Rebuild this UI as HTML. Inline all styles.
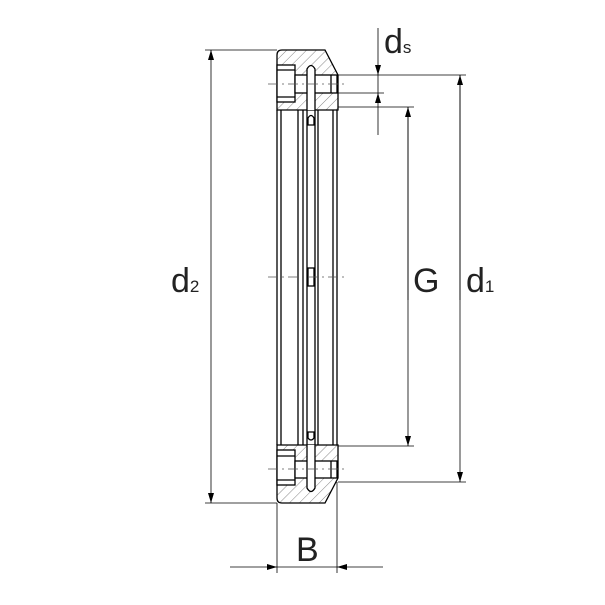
<!DOCTYPE html>
<html><head><style>body{margin:0;background:#fff}svg{display:block}</style></head><body>
<svg width="605" height="605" viewBox="0 0 605 605" xmlns="http://www.w3.org/2000/svg" font-family="Liberation Sans, sans-serif">
<defs>
<pattern id="h" patternUnits="userSpaceOnUse" width="7" height="7" patternTransform="rotate(45)">
<line x1="0" y1="0" x2="0" y2="7" stroke="#333" stroke-width="0.6"/>
</pattern>
<marker id="a" markerWidth="10" markerHeight="6" refX="10" refY="3" orient="auto" markerUnits="userSpaceOnUse"><path d="M0,0 L10,3 L0,6z" fill="#000"/></marker>
</defs>
<g stroke="#000" fill="none" stroke-width="1.3">
<path d="M277,55 Q277,50 282,50 L325,50 L338,75 L338,110 L277,110 Z" fill="url(#h)"/>
<rect x="277" y="65" width="18" height="37" fill="#fff"/>
<line x1="277" y1="70" x2="295" y2="70"/><line x1="277" y1="97" x2="295" y2="97"/>
<rect x="295" y="75" width="42" height="18" fill="#fff"/>
<line x1="331" y1="75" x2="331" y2="93"/>
<path d="M307,110 L307,69 Q311,62 315,69 L315,110" fill="#fff"/>
<path d="M277,445 L338,445 L338,478 L325,503 L282,503 Q277,503 277,498 Z" fill="url(#h)"/>
<rect x="277" y="450" width="18" height="35" fill="#fff"/>
<line x1="277" y1="456" x2="295" y2="456"/><line x1="277" y1="480" x2="295" y2="480"/>
<rect x="295" y="461" width="42" height="17" fill="#fff"/>
<line x1="331" y1="461" x2="331" y2="478"/>
<path d="M307,445 L307,488 Q311,495 315,488 L315,445" fill="#fff"/>
<line x1="277" y1="110" x2="277" y2="445"/>
<line x1="281" y1="110" x2="281" y2="445"/>
<line x1="298" y1="110" x2="298" y2="445"/>
<line x1="303" y1="110" x2="303" y2="445"/>
<line x1="307" y1="110" x2="307" y2="445"/>
<line x1="315" y1="110" x2="315" y2="445"/>
<line x1="318" y1="110" x2="318" y2="445"/>
<line x1="333" y1="110" x2="333" y2="445"/>
<line x1="337" y1="110" x2="337" y2="445"/>
<rect x="308" y="268" width="6" height="18" fill="#fff"/>
<path d="M308,118 Q311,113 314,118 L314,125 L308,125Z"/>
<path d="M308,432 L314,432 L314,438 Q311,442 308,438Z"/>
</g>
<g stroke="#555" stroke-width="0.7" stroke-dasharray="10,4,2,4">
<line x1="268" y1="277" x2="345" y2="277"/>
<line x1="268" y1="84" x2="345" y2="84"/>
<line x1="268" y1="469" x2="345" y2="469"/>
</g>
<g stroke="#000" stroke-width="0.8" fill="none">
<line x1="205" y1="50" x2="277" y2="50"/>
<line x1="205" y1="503" x2="277" y2="503"/>
<line x1="338" y1="75" x2="466" y2="75"/>
<line x1="338" y1="93" x2="384" y2="93"/>
<line x1="338" y1="107" x2="414" y2="107"/>
<line x1="338" y1="446" x2="414" y2="446"/>
<line x1="338" y1="482" x2="466" y2="482"/>
<line x1="277" y1="503" x2="277" y2="573"/>
<line x1="337" y1="482" x2="337" y2="573"/>
<line x1="211" y1="50" x2="211" y2="503" marker-end="url(#a)"/>
<line x1="211" y1="60" x2="211" y2="50" marker-end="url(#a)"/>
<line x1="460" y1="75" x2="460" y2="482" marker-end="url(#a)"/>
<line x1="460" y1="300" x2="460" y2="75" marker-end="url(#a)"/>
<line x1="408" y1="107" x2="408" y2="446" marker-end="url(#a)"/>
<line x1="408" y1="300" x2="408" y2="107" marker-end="url(#a)"/>
<line x1="378" y1="28" x2="378" y2="75" marker-end="url(#a)"/>
<line x1="378" y1="135" x2="378" y2="93" marker-end="url(#a)"/>
<line x1="378" y1="75" x2="378" y2="93"/>
<line x1="230" y1="567" x2="277" y2="567" marker-end="url(#a)"/>
<line x1="383" y1="567" x2="337" y2="567" marker-end="url(#a)"/>
<line x1="277" y1="567" x2="337" y2="567"/>
</g>
<g fill="#222" font-size="34">
<text x="171" y="292">d<tspan font-size="17">2</tspan></text>
<text x="466" y="292">d<tspan font-size="17">1</tspan></text>
<text x="413" y="292">G</text>
<text x="384" y="53">d<tspan font-size="17">s</tspan></text>
<text x="296" y="561">B</text>
</g>
</svg>
</body></html>
